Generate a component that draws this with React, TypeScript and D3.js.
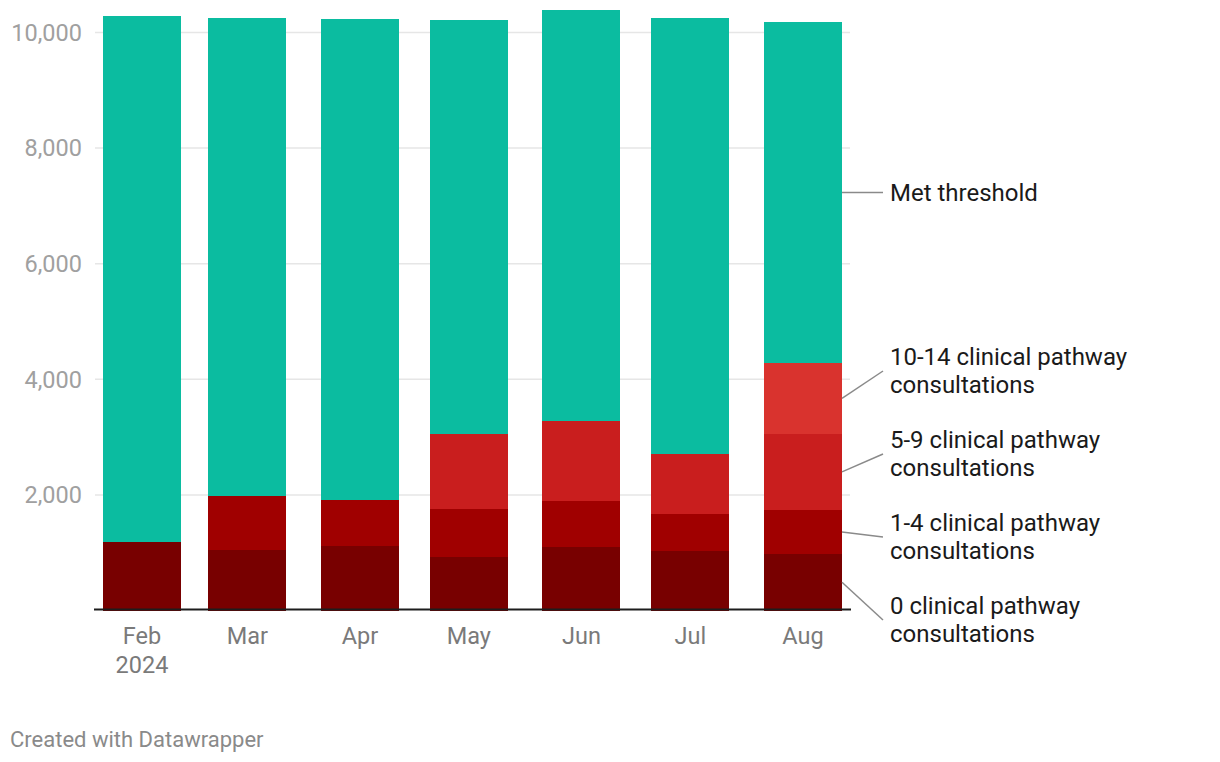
import { useMemo } from "react"
import * as d3 from "d3"

// month starts (bars are placed on a time scale, like Datawrapper does)
const months = ["2024-02-01", "2024-03-01", "2024-04-01", "2024-05-01", "2024-06-01", "2024-07-01", "2024-08-01"]
const monthLabels = [["Feb", "2024"], ["Mar"], ["Apr"], ["May"], ["Jun"], ["Jul"], ["Aug"]]

// values
const zeroConsults = [1185, 1047, 1121, 926, 1099, 1029, 977]
const oneToFour = [0, 934, 796, 830, 795, 641, 762]
const fiveToNine = [0, 0, 0, 1303, 1385, 1043, 1320]
const tenToFourteen = [0, 0, 0, 0, 0, 0, 1223]
const metThreshold = [9101, 8270, 8317, 7157, 7110, 7538, 5900]

const seriesKeys = ["zero", "oneFour", "fiveNine", "tenFourteen", "met"]
const seriesColors = ["#780000", "#a00000", "#c91e1e", "#d9332e", "#0bbca0"]
const seriesLabels = [
  ["0 clinical pathway", "consultations"],
  ["1-4 clinical pathway", "consultations"],
  ["5-9 clinical pathway", "consultations"],
  ["10-14 clinical pathway", "consultations"],
  ["Met threshold"],
]
// where each label block sits (vertical centre)
const labelCenters = [620, 537, 454, 371, 192.5]

const yTicks = [2000, 4000, 6000, 8000, 10000]

const width = 1220
const height = 762
const margin = { top: 32.5, bottom: 151.5, left: 95, right: 370 }
const barWidth = 78
const font = "Roboto, 'Noto Sans', sans-serif"

export default function App() {
  const parse = d3.timeParse("%Y-%m-%d")
  const dates = months.map((m) => parse(m) as Date)

  const rows = useMemo(
    () =>
      dates.map((d, i) => ({
        date: d,
        zero: zeroConsults[i],
        oneFour: oneToFour[i],
        fiveNine: fiveToNine[i],
        tenFourteen: tenToFourteen[i],
        met: metThreshold[i],
      })),
    []
  )

  const stacked = d3.stack<any>().keys(seriesKeys)(rows)

  const x = d3
    .scaleTime()
    .domain([dates[0], dates[dates.length - 1]])
    .range([142, 803])

  const y = d3
    .scaleLinear()
    .domain([0, 10000])
    .range([height - margin.bottom, margin.top])

  const plotRight = width - margin.right
  const lastIdx = rows.length - 1
  const lastBarRight = x(dates[lastIdx]) + barWidth / 2

  return (
    <div style={{ position: "absolute", left: 0, top: 0, background: "#fff" }}>
      <svg width={width} height={height} style={{ display: "block", fontFamily: font }}>
        {/* gridlines */}
        {yTicks.map((t) => (
          <g key={t}>
            <line x1={margin.left} x2={plotRight} y1={y(t)} y2={y(t)} stroke="#e6e6e6" strokeWidth={1.5} />
            <text
              x={82}
              y={y(t)}
              dy="0.35em"
              textAnchor="end"
              fontSize={23.5}
              fill="#a0a0a0"
            >
              {d3.format(",")(t)}
            </text>
          </g>
        ))}

        {/* bars */}
        {stacked.map((s, si) => (
          <g key={s.key} fill={seriesColors[si]} shapeRendering="crispEdges">
            {s.map((d, i) =>
              d[1] - d[0] > 0 ? (
                <rect
                  key={i}
                  x={x(dates[i]) - barWidth / 2}
                  y={y(d[1])}
                  width={barWidth}
                  height={y(d[0]) - y(d[1])}
                />
              ) : null
            )}
          </g>
        ))}

        {/* baseline */}
        <line x1={margin.left - 1} x2={plotRight + 1} y1={y(0) - 1} y2={y(0) - 1} stroke="#1d1d1d" strokeWidth={2} />

        {/* x labels */}
        {dates.map((d, i) => (
          <text key={i} x={x(d)} y={644} textAnchor="middle" fontSize={23.5} fill="#7a7a7a">
            {monthLabels[i].map((l, li) => (
              <tspan key={li} x={x(d)} dy={li === 0 ? 0 : 29}>
                {l}
              </tspan>
            ))}
          </text>
        ))}

        {/* direct labels with leader lines */}
        {stacked.map((s, si) => {
          const seg = s[lastIdx]
          const midY = y((seg[0] + seg[1]) / 2)
          const lines = seriesLabels[si]
          const c = labelCenters[si]
          const firstY = c - ((lines.length - 1) * 28) / 2
          return (
            <g key={s.key}>
              <line x1={lastBarRight} y1={midY} x2={883} y2={c} stroke="#8a8a8a" strokeWidth={1.5} />
              <text x={890} fontSize={24} fill="#1a1a1a">
                {lines.map((l, li) => (
                  <tspan key={li} x={890} y={firstY + li * 28} dy="0.35em">
                    {l}
                  </tspan>
                ))}
              </text>
            </g>
          )
        })}

        <text x={10} y={739} dy="0.35em" fontSize={22} fill="#8a8a8a">
          Created with Datawrapper
        </text>
      </svg>
    </div>
  )
}
